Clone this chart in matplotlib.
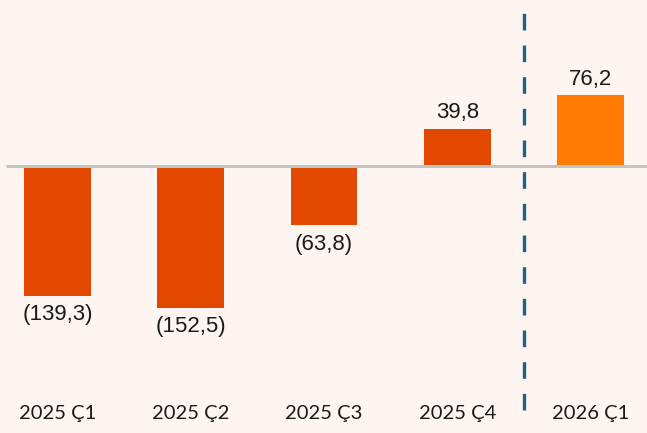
import matplotlib.pyplot as plt
from matplotlib.transforms import blended_transform_factory

# veri
categories = ["2025 Ç1", "2025 Ç2", "2025 Ç3", "2025 Ç4", "2026 Ç1"]
values = [-139.3, -152.5, -63.8, 39.8, 76.2]
labels = ["(139,3)", "(152,5)", "(63,8)", "39,8", "76,2"]
colors = ["#E34800", "#E34800", "#E34800", "#E34800", "#FF7A00"]

bg = "#FEF5F1"

fig = plt.figure(figsize=(6.47, 4.33), dpi=100)
fig.patch.set_facecolor(bg)
ax = fig.add_axes([0, 0, 1, 1])
ax.set_facecolor(bg)

x = list(range(len(categories)))
ax.bar(x, values, width=0.5, color=colors, zorder=2)

# sıfır çizgisi
ax.plot([-0.39, 4.5], [0, 0], color="#C4C4C4", lw=2.2, zorder=3, solid_capstyle="butt")

# ayırıcı kesikli çizgi
ax.axvline(3.5, ymin=0.053, ymax=0.988, color="#1D6285", lw=2.4,
           linestyle=(0, (5, 4.5)), zorder=3)

# değer etiketleri
for xi, v, lab in zip(x, values, labels):
    if v < 0:
        ax.annotate(lab, (xi, v), xytext=(0, -6), textcoords="offset points",
                    ha="center", va="top", fontsize=16, family="Liberation Sans",
                    color="#1A1A1A")
    else:
        ax.annotate(lab, (xi, v), xytext=(0, 4), textcoords="offset points",
                    ha="center", va="bottom", fontsize=16, family="Liberation Sans",
                    color="#1A1A1A")

# kategori etiketleri
tr = blended_transform_factory(ax.transData, ax.transAxes)
for xi, c in zip(x, categories):
    ax.text(xi, 0.046, c, transform=tr, ha="center", va="center",
            fontsize=14.5, family="Lato", color="#1A1A1A")

k = 0.93  # px / birim
top = 166 / k
ax.set_ylim(top - 433 / k, top)
ax.set_xlim(-57.5 / 133.3, (647 - 57.5) / 133.3)
ax.axis("off")

fig.savefig("out.png", dpi=100, facecolor=bg)
